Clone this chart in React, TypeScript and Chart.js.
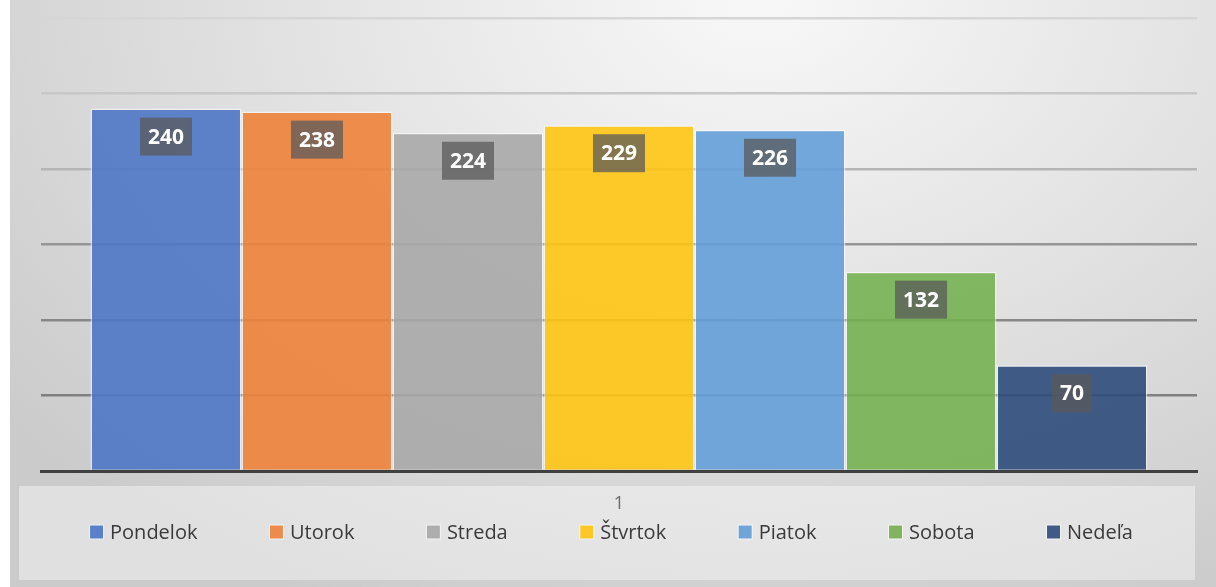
import React, { useEffect, useRef } from "react";
import { Chart, registerables } from "chart.js";

Chart.register(...registerables);

// ---- data ----
const categories = ["1"];
const seriesNames = ["Pondelok", "Utorok", "Streda", "Štvrtok", "Piatok", "Sobota", "Nedeľa"];
const seriesValues = [240, 238, 224, 229, 226, 132, 70];
const yTickValues = [0, 50, 100, 150, 200, 250, 300];

// ---- styles ----
const seriesColors = [
  "rgba(78,119,198,0.9)",
  "rgba(238,130,59,0.9)",
  "rgba(168,168,168,0.9)",
  "rgba(255,197,20,0.9)",
  "rgba(100,159,216,0.9)",
  "rgba(117,177,81,0.9)",
  "rgba(46,76,123,0.9)",
];
const legendColors = ["#5a81c8", "#ec8b4b", "#adadad", "#fec728", "#70a5d8", "#7fb55f", "#3f5a85"];
const gridColorsByValue: Record<number, string> = {
  0: "rgba(0,0,0,0)",
  50: "#808080",
  100: "#878787",
  150: "#959595",
  200: "#b5b5b5",
  250: "#c8c8c8",
  300: "#d6d6d6",
};

const FONT = '"Open Sans", "Noto Sans", "DejaVu Sans", sans-serif';

const bandPlugin = {
  id: "legendBand",
  beforeDraw(chart: any) {
    const ctx = chart.ctx;
    ctx.save();
    ctx.fillStyle = "rgba(255,255,255,0.4)";
    ctx.fillRect(9, 486, 1176, 94);
    ctx.restore();
  },
};

const valueBoxPlugin = {
  id: "valueBoxes",
  afterDatasetsDraw(chart: any) {
    const ctx = chart.ctx;
    ctx.save();
    ctx.font = `bold 21px ${FONT}`;
    ctx.textAlign = "center";
    ctx.textBaseline = "middle";
    chart.data.datasets.forEach((ds: any, i: number) => {
      const meta = chart.getDatasetMeta(i);
      meta.data.forEach((bar: any, j: number) => {
        const text = String(ds.data[j]);
        const tw = ctx.measureText(text).width;
        const w = tw + 16;
        const h = 38;
        const x = bar.x - w / 2;
        const y = bar.y + 9;
        ctx.fillStyle = "rgba(89,89,89,0.75)";
        ctx.fillRect(x, y, w, h);
        ctx.fillStyle = "#ffffff";
        ctx.fillText(text, bar.x, y + h / 2 + 1);
      });
    });
    ctx.restore();
  },
};

const customLegendPlugin = {
  id: "customLegend",
  afterDraw(chart: any) {
    const ctx = chart.ctx;
    ctx.save();
    ctx.font = `20px ${FONT}`;
    ctx.textBaseline = "middle";
    ctx.textAlign = "left";
    const box = 15;
    const gap = 6;
    const spacing = 71.5;
    const names = chart.data.datasets.map((d: any) => d.label as string);
    const widths = names.map((n: string) => box + gap + ctx.measureText(n).width);
    const total = widths.reduce((a: number, b: number) => a + b, 0) + spacing * (names.length - 1);
    let x = 601 - total / 2;
    const cy = 532;
    names.forEach((n: string, i: number) => {
      ctx.fillStyle = "rgba(255,255,255,0.6)";
      ctx.fillRect(x, cy - box / 2, box, box);
      ctx.fillStyle = legendColors[i];
      ctx.fillRect(x + 1, cy - box / 2 + 1, box - 2, box - 2);
      ctx.fillStyle = "#3a3a3a";
      ctx.fillText(n, x + box + gap, cy + 1);
      x += widths[i] + spacing;
    });
    ctx.restore();
  },
};

export default function App() {
  const canvasRef = useRef<HTMLCanvasElement | null>(null);

  useEffect(() => {
    if (!canvasRef.current) return;
    const chart = new Chart(canvasRef.current, {
      type: "bar",
      data: {
        labels: categories,
        datasets: seriesNames.map((name, i) => ({
          label: name,
          data: [seriesValues[i]],
          backgroundColor: seriesColors[i],
          borderColor: "rgba(255,255,255,0.55)",
          borderWidth: 1.5,
          borderSkipped: "start",
          categoryPercentage: 0.9144,
          barPercentage: 1,
        })),
      },
      options: {
        responsive: false,
        maintainAspectRatio: false,
        animation: false,
        devicePixelRatio: 1,
        layout: { padding: { left: 31, right: 19, top: 18, bottom: 76 } },
        plugins: {
          legend: { display: false },
          tooltip: { enabled: false },
          title: { display: false },
        },
        scales: {
          x: {
            grid: { display: false, drawTicks: false },
            border: { display: true, color: "#404040", width: 3 },
            ticks: {
              color: "#6f6f6f",
              font: { family: FONT, size: 19 },
              padding: 21,
            },
            afterFit: (scale: any) => {
              scale.height = 40;
            },
          },
          y: {
            min: 0,
            max: 300,
            afterBuildTicks: (scale: any) => {
              scale.ticks = yTickValues.map((v) => ({ value: v }));
            },
            grid: {
              drawTicks: false,
              lineWidth: 2.5,
              color: (ctx: any) => gridColorsByValue[ctx.tick?.value] ?? "#999",
            },
            border: { display: false },
            ticks: { display: false },
            afterFit: (scale: any) => {
              scale.width = 0;
            },
          },
        },
      },
      plugins: [bandPlugin, valueBoxPlugin, customLegendPlugin],
    });
    return () => chart.destroy();
  }, []);

  return (
    <div
      style={{
        position: "fixed",
        left: 0,
        top: 0,
        width: 1216,
        height: 587,
        background: "#ffffff",
        overflow: "hidden",
      }}
    >
      <div
        style={{
          position: "absolute",
          left: 10,
          top: 0,
          width: 1206,
          height: 587,
          background:
            "radial-gradient(ellipse 80% 115% at 62% 0%, #f8f8f8 0%, #e4e4e4 45%, #cbcbcb 100%)",
        }}
      >
        <canvas ref={canvasRef} width={1206} height={587} style={{ display: "block" }} />
      </div>
    </div>
  );
}
